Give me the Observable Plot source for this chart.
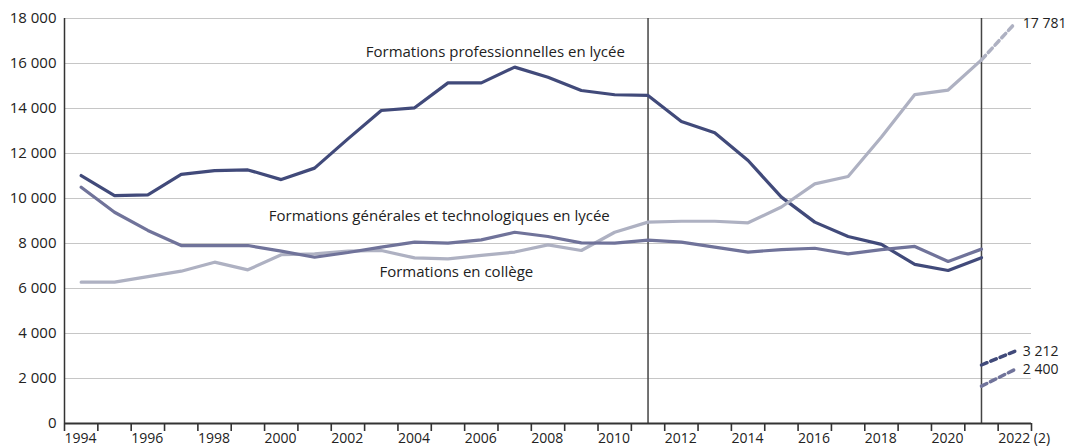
<!DOCTYPE html>
<html><head><meta charset="utf-8">
<script src="https://cdn.jsdelivr.net/npm/d3@7"></script>
<script src="https://cdn.jsdelivr.net/npm/@observablehq/plot@0.6"></script>
<style>body{margin:0;background:#fff;} #chart svg{display:block;}</style>
</head><body><div id="chart"></div>
<script>
// ---- data ----
const years = d3.range(1994, 2022);
const pro = [11020, 10130, 10160, 11070, 11240, 11270, 10840, 11350, 12650, 13910, 14030, 15140, 15140, 15840, 15390, 14800, 14610, 14580, 13420, 12920, 11690, 10060, 8950, 8310, 7960, 7070, 6800, 7370];
const gt = [6280, 6280, 6530, 6770, 7170, 6830, 7500, 7540, 7660, 7690, 7360, 7320, 7470, 7620, 7940, 7690, 8500, 8950, 8990, 8990, 8920, 9620, 10650, 10980, 12730, 14620, 14820, 16160];
const college = [10500, 9390, 8580, 7910, 7910, 7910, 7660, 7390, 7600, 7840, 8060, 8020, 8160, 8500, 8310, 8030, 8020, 8150, 8060, 7840, 7620, 7730, 7790, 7540, 7730, 7870, 7200, 7750];
const projYears = [2021, 2022];
const projPro = [2600, 3212];
const projGT = [16160, 17781];
const projCollege = [1660, 2400];
const breakYears = [2011, 2021];
const yTicks = d3.range(0, 18001, 2000);
const xTicks = d3.range(1994, 2024);
const seriesNames = ["Formations professionnelles en lycée", "Formations générales et technologiques en lycée", "Formations en collège"];
const labelYears = [2006.92, 2005.24, 2005.75];
const labelValues = [16490, 9200, 6710];

// ---- styles ----
const colors = ["#414a7a", "#aeb1c2", "#70739a"];
const fr = d3.formatLocale({decimal: ",", thousands: " ", grouping: [3], currency: ["", ""]});
const fmt = fr.format(",d");

const rows = [];
[pro, gt, college].forEach((arr, i) => arr.forEach((v, j) => rows.push({year: years[j], value: v, series: seriesNames[i]})));
const proj = [];
[projPro, projGT, projCollege].forEach((arr, i) => arr.forEach((v, j) => proj.push({year: projYears[j], value: v, series: seriesNames[i]})));
const projEnds = proj.filter(d => d.year === 2022);
const labels = seriesNames.map((s, i) => ({name: s, year: labelYears[i], value: labelValues[i]}));

const chart = Plot.plot({
  width: 1067,
  height: 448,
  marginLeft: 64,
  marginRight: 36,
  marginTop: 18,
  marginBottom: 25,
  style: {fontFamily: "'Open Sans', sans-serif", fontSize: "15px", color: "#222", background: "#fff"},
  x: {domain: [1994, 2023]},
  y: {domain: [0, 18000]},
  color: {domain: seriesNames, range: colors},
  marks: [
    Plot.ruleY(yTicks.filter(d => d > 0), {stroke: "#c6c6c6", strokeWidth: 1}),
    Plot.ruleX(breakYears, {x: d => d + 0.5, y1: 0, y2: 18000, stroke: "#444", strokeWidth: 1.5}),
    Plot.line(rows, {x: d => d.year + 0.5, y: "value", z: "series", stroke: "series", strokeWidth: 3.2, strokeLinejoin: "miter"}),
    Plot.line(proj, {x: d => d.year + 0.5, y: "value", z: "series", stroke: "series", strokeWidth: 3.5, strokeDasharray: "6,4"}),
    Plot.text(projEnds, {x: d => d.year + 0.5, y: "value", text: d => fmt(d.value), textAnchor: "start", dx: 8, fill: "#222", fontSize: 14}),
    Plot.text(labels, {x: "year", y: "value", text: "name", fill: "#222", fontSize: 15}),
    Plot.axisY({ticks: yTicks, tickSize: 0, tickPadding: 8, tickFormat: fmt, fontSize: 15, fill: "#222", label: null}),
    Plot.axisX({ticks: xTicks, tickSize: 8, tickPadding: 2, tickFormat: d => d % 2 === 0 && d < 2023 ? (d === 2022 ? "2022 (2)" : String(d)) : "", textAnchor: "start", stroke: "#333", strokeWidth: 1.6, fontSize: 14, fill: "#222", label: null}),
    Plot.ruleY([0], {stroke: "#333", strokeWidth: 2}),
    Plot.ruleX([1994], {y1: 0, y2: 18000, stroke: "#333", strokeWidth: 1.5})
  ]
});
document.getElementById("chart").appendChild(chart);
</script>
</body></html>
